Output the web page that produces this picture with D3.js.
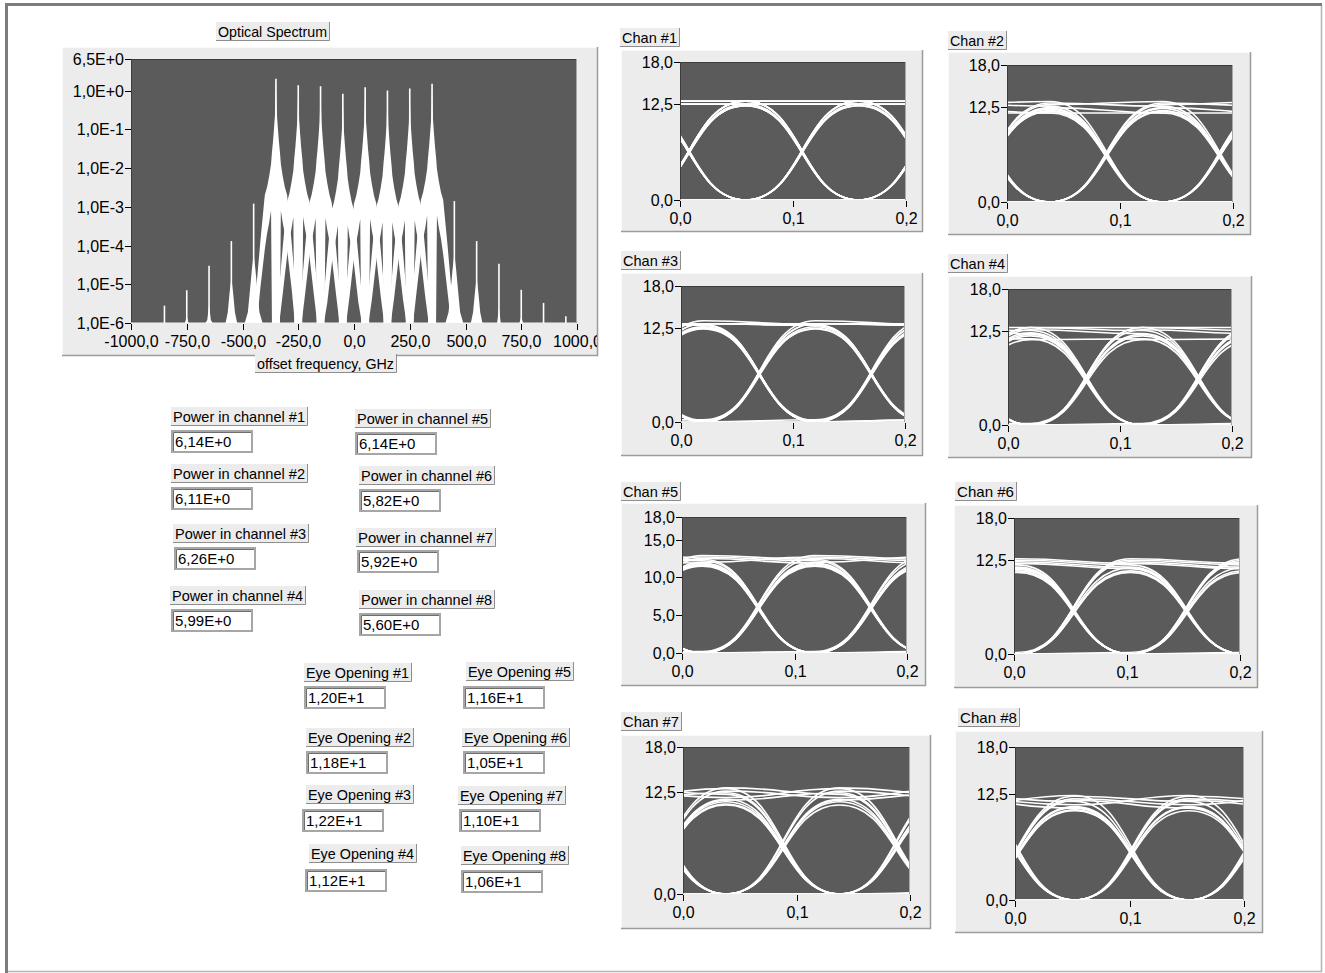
<!DOCTYPE html>
<html>
<head>
<meta charset="utf-8">
<script src="https://cdn.jsdelivr.net/npm/d3@7"></script>
<style>
body { margin: 0; background: #fff; }
svg { display: block; font-family: "Liberation Sans", Arial, sans-serif; }
</style>
</head>
<body>
<svg id="front" width="1325" height="973"></svg>
<script>
'use strict';

// ---- values ----
var channelNames = ["Chan #1", "Chan #2", "Chan #3", "Chan #4", "Chan #5", "Chan #6", "Chan #7", "Chan #8"];
var channelPower = [6.14, 6.11, 6.26, 5.99, 6.14, 5.82, 5.92, 5.60];
var eyeOpening = [12.0, 11.8, 12.2, 11.2, 11.6, 10.5, 11.0, 10.6];

var specXTicks = [-1000, -750, -500, -250, 0, 250, 500, 750, 1000];
var specYTicks = [6.5, 1, 1e-1, 1e-2, 1e-3, 1e-4, 1e-5, 1e-6];

var carrierFreq = [-350, -250, -150, -50, 50, 150, 250, 350];
var carrierPeak = [2.0, 1.37, 1.29, 0.82, 1.22, 1.0, 1.13, 1.49];
// band around each carrier: offset (GHz), upper and lower edge in decades below the peak
var lobeOffset = [0, 2, 4, 9, 13, 18, 22, 30, 40, 50, 60, 70, 85, 100];
var lobeTop = [0, -0.5, -0.9, -1.3, -1.6, -1.9, -2.2, -2.5, -2.8, -3.0, -3.6, -4.2, -5.2, -6.3];
var lobeBottom = [-9, -9, -9, -9, -9, -9, -3.4, -3.7, -4.0, -4.4, -4.9, -5.4, -6.4, -7.5];

// mixing products
var mixFreq = [-850, -750, -650, -550, -450, 450, 550, 650, 750, 850, 950];
var mixPeak = [2.8e-6, 7e-6, 3e-5, 1.3e-4, 1.2e-3, 1.4e-3, 1.3e-4, 3.4e-5, 7.2e-6, 3.3e-6, 1.5e-6];
var mixLobe = [0, 1.5e-6, 3e-6, 1.5e-5, 6e-5, 6e-5, 1.5e-5, 2.5e-6, 1.5e-6, 0, 0];
var mixLobeOffset = [0, 8, 16, 26, 40];
var mixLobeDecades = [0, -0.4, -0.9, -1.5, -2.5];

// eye diagrams: level at each bit centre, and crossing time (ns)
var chan1Levels = [0, 12.3, 0, 0, 12.9, 12.9, 0, 12.3, 0, 12.5, 12.5, 12.5, 0, 0, 12.9, 0, 12.3, 0, 12.9, 12.9, 0, 0];
var chan2Levels = [0, 12.2, 0, 13.0, 12.6, 0, 0, 11.9, 0, 12.4, 11.7, 11.7, 0, 12.0, 0, 0, 12.8, 13.2, 0, 12.3, 0, 0];
var chan3Levels = [0.2, 12.5, 0, 13.0, 12.8, 0, 0.3, 12.4, 0, 13.4, 12.9, 0, 0, 12.6, 0.2, 13.0, 13.0, 12.8, 0, 12.3, 0, 0.3];
var chan4Levels = [0, 12.2, 0, 12.9, 12.9, 0, 0, 11.8, 0, 12.6, 12.1, 0, 0.2, 12.0, 0, 11.3, 11.4, 0, 12.9, 12.5, 0, 0];
var chan5Levels = [0, 11.6, 0, 12.9, 12.4, 0, 0, 11.5, 0, 12.0, 12.7, 12.2, 0, 11.8, 0, 0.2, 12.5, 11.9, 0, 11.6, 0, 0];
var chan6Levels = [0, 11.2, 0, 12.4, 11.8, 0, 0, 10.8, 0, 12.2, 11.5, 0, 0.2, 11.4, 0, 12.6, 12.0, 11.3, 0, 11.0, 0, 0];
var chan7Levels = [0, 11.0, 0, 13.0, 12.2, 0, 0, 11.6, 0, 12.6, 11.8, 12.9, 0, 10.9, 0, 0, 11.5, 12.4, 0, 11.3, 0, 0.2];
var chan8Levels = [0, 10.6, 0, 12.2, 11.6, 0, 0, 10.9, 0, 11.9, 11.2, 12.3, 0, 10.5, 0, 0, 11.7, 10.8, 0, 11.0, 0, 0];
var eyeLevels = [chan1Levels, chan2Levels, chan3Levels, chan4Levels, chan5Levels, chan6Levels, chan7Levels, chan8Levels];
var eyeCross = [0.008, 0.088, 0.07, 0.07, 0.068, 0.053, 0.088, 0.002];
var bitPeriod = 0.1;

var eyeXTicks = [0, 0.1, 0.2];
var eyeYTicks = [0, 12.5, 18];
var eyeYTicksWide = [0, 5, 10, 15, 18];

// ---- layout (pixels) ----
// label x, label y, label w, panel x, y, w, h, plot x, y, w, h
var chanLayout = [
	[620, 28, 60, 621, 50, 302, 182, 680, 62, 226, 138],
	[948, 31, 59, 948, 52, 303, 183, 1007, 65, 226, 137],
	[621, 251, 60, 621, 273, 302, 183, 681, 286, 224, 136],
	[948, 254, 60, 948, 276, 304, 182, 1008, 289, 224, 136],
	[621, 482, 60, 621, 503, 305, 183, 682, 517, 225, 136],
	[955, 482, 62, 954, 505, 304, 183, 1014, 518, 226, 136],
	[621, 712, 61, 621, 735, 310, 194, 683, 747, 227, 147],
	[958, 708, 62, 955, 731, 308, 202, 1015, 747, 229, 153]
];
// label x, label y, label w, box x, box y
var powerLayout = [
	[171, 407, 137, 171, 430], [171, 464, 137, 171, 487], [173, 524, 136, 174, 547], [170, 586, 136, 171, 609],
	[355, 409, 136, 355, 432], [359, 466, 136, 359, 489], [356, 528, 140, 357, 550], [359, 590, 136, 359, 613]
];
var eyeLayout = [
	[304, 663, 108, 304, 686], [306, 728, 108, 306, 751], [306, 785, 108, 302, 809], [309, 844, 108, 305, 869],
	[466, 662, 108, 463, 686], [462, 728, 108, 463, 751], [458, 786, 108, 459, 809], [461, 846, 108, 461, 870]
];

var PANEL = "#ececec", PLOT = "#5b5b5b";

var lv = d3.formatLocale({decimal: ",", thousands: ".", grouping: [3], currency: ["", ""], minus: "-"});
function lvFormat(spec) {
	var f = lv.format(spec);
	return function(v) { return f(v).replace("e", "E"); };
}

var svg = d3.select("#front");

// outer frame
svg.append("path").attr("d", "M1321.5,4 V971.5 H6").attr("fill", "none")
	.attr("stroke", "#b4b4b4").attr("stroke-width", 1.5);
svg.append("path").attr("d", "M6.5,973 V4.5 H1322").attr("fill", "none")
	.attr("stroke", "#7c7c7c").attr("stroke-width", 3);

function raisedPanel(x, y, w, h) {
	var g = svg.append("g");
	g.append("rect").attr("x", x).attr("y", y).attr("width", w).attr("height", h).attr("fill", PANEL);
	g.append("path").attr("d", "M" + (x + 0.5) + "," + (y + h) + " V" + (y + 0.5) + " H" + (x + w))
		.attr("fill", "none").attr("stroke", "#fafafa");
	g.append("path").attr("d", "M" + (x + w - 0.5) + "," + y + " V" + (y + h - 0.5) + " H" + x)
		.attr("fill", "none").attr("stroke", "#9c9c9c").attr("stroke-width", 1.5);
	return g;
}

function labelBox(x, y, w, text) {
	var h = 19;
	var g = svg.append("g");
	g.append("rect").attr("x", x).attr("y", y).attr("width", w).attr("height", h).attr("fill", PANEL);
	g.append("path").attr("d", "M" + (x + w - 0.5) + "," + y + " V" + (y + h - 0.5) + " H" + x)
		.attr("fill", "none").attr("stroke", "#8e8e8e");
	g.append("text").attr("x", x + 2).attr("y", y + 15)
		.attr("textLength", w - 5).attr("lengthAdjust", "spacingAndGlyphs")
		.style("font-size", "15px").text(text);
}

function valueBox(x, y, text) {
	var w = 82, h = 23;
	var g = svg.append("g");
	g.append("rect").attr("x", x + 1).attr("y", y + 1).attr("width", w - 2).attr("height", h - 2)
		.attr("fill", "#fff").attr("stroke", "#a6a6a6").attr("stroke-width", 2);
	g.append("path").attr("d", "M" + (x + 2.5) + "," + (y + h - 2) + " V" + (y + 2.5) + " H" + (x + w - 2))
		.attr("fill", "none").attr("stroke", "#6e6e6e");
	g.append("text").attr("x", x + 4).attr("y", y + 17).style("font-size", "15px").text(text);
}

function plotFrame(x, y, w, h) {
	svg.append("rect").attr("x", x).attr("y", y).attr("width", w).attr("height", h).attr("fill", PLOT);
	svg.append("path").attr("d", "M" + (x + 0.5) + "," + (y + h) + " V" + (y + 0.5) + " H" + (x + w))
		.attr("fill", "none").attr("stroke", "#3c3c3c");
	svg.append("path").attr("d", "M" + (x + w - 0.5) + "," + y + " V" + (y + h - 0.5) + " H" + x)
		.attr("fill", "none").attr("stroke", "#a8a8a8");
}

function yAxis(scale, ticks, x, fmt) {
	var g = svg.append("g");
	ticks.forEach(function(t) {
		var yy = Math.round(scale(t)) + 0.5;
		g.append("line").attr("x1", x - 6).attr("x2", x).attr("y1", yy).attr("y2", yy).attr("stroke", "#000");
		g.append("text").attr("x", x - 7).attr("y", yy + 5.5).attr("text-anchor", "end")
			.style("font-size", "16px").text(fmt(t));
	});
}

function xAxis(scale, ticks, y, fmt, clipId) {
	var g = svg.append("g");
	if (clipId) g.attr("clip-path", "url(#" + clipId + ")");
	ticks.forEach(function(t) {
		var xx = Math.round(scale(t)) + 0.5;
		g.append("line").attr("x1", xx).attr("x2", xx).attr("y1", y + 1).attr("y2", y + 7).attr("stroke", "#000");
		g.append("text").attr("x", xx).attr("y", y + 24).attr("text-anchor", "middle")
			.style("font-size", "16px").text(fmt(t));
	});
}

var defs = svg.append("defs");
function clipRect(id, x, y, w, h) {
	defs.append("clipPath").attr("id", id).append("rect")
		.attr("x", x).attr("y", y).attr("width", w).attr("height", h);
}

// ---- optical spectrum ----
raisedPanel(62, 47, 536, 309);
labelBox(216, 22, 114, "Optical Spectrum");
plotFrame(131, 59, 446, 264);
clipRect("specClip", 132, 60, 444, 263);
clipRect("specPanelClip", 62, 47, 535, 309);

var sx = d3.scaleLinear().domain([-1000, 1000]).range([131, 577]);
var sy = d3.scaleLog().domain([1e-6, 6.5]).range([323, 59]).clamp(true);
var floorY = sy(1e-6);

// [freq, upper value, lower value] along a band
function bandPoints(f0, peak, offs, top, bottom) {
	var pts = [], k;
	for (k = offs.length - 1; k > 0; k--) {
		pts.push([f0 - offs[k], peak * Math.pow(10, top[k]), bottom ? peak * Math.pow(10, bottom[k]) : 0]);
	}
	for (k = 0; k < offs.length; k++) {
		pts.push([f0 + offs[k], peak * Math.pow(10, top[k]), bottom ? peak * Math.pow(10, bottom[k]) : 0]);
	}
	return pts;
}

var specArea = d3.area()
	.x(function(d) { return sx(d[0]); })
	.y0(function(d) { return d[2] > 1e-6 ? sy(d[2]) : floorY; })
	.y1(function(d) { return sy(Math.max(d[1], 1e-6)); });

var spec = svg.append("g").attr("clip-path", "url(#specClip)");

carrierFreq.forEach(function(f, i) {
	spec.append("path")
		.attr("d", specArea(bandPoints(f, carrierPeak[i], lobeOffset, lobeTop, lobeBottom)))
		.attr("fill", "#fff");
});
mixFreq.forEach(function(f, i) {
	if (mixLobe[i] > 0) {
		spec.append("path")
			.attr("d", specArea(bandPoints(f, mixLobe[i], mixLobeOffset, mixLobeDecades, null)))
			.attr("fill", "#fff");
	}
});
carrierFreq.concat(mixFreq).forEach(function(f, i) {
	var v = i < carrierFreq.length ? carrierPeak[i] : mixPeak[i - carrierFreq.length];
	spec.append("line").attr("x1", sx(f)).attr("x2", sx(f)).attr("y1", floorY).attr("y2", sy(v))
		.attr("stroke", "#fff").attr("stroke-width", 1.6);
});

yAxis(sy, specYTicks, 131, lvFormat(".1e"));
xAxis(sx, specXTicks, 323, lvFormat(".1f"), "specPanelClip");
labelBox(255, 354, 142, "offset frequency, GHz");

// ---- eye diagrams ----
function eyeTraces(levels, cross) {
	var T = bitPeriod;
	var c = ((cross + T / 2) % T + T) % T;
	var traces = [];
	for (var k = 1; k + 2 < levels.length; k++) {
		traces.push([-1, 0, 1, 2].map(function(j) { return [c + j * T, levels[k + j]]; }));
	}
	return traces;
}

channelNames.forEach(function(name, i) {
	var L = chanLayout[i];
	var px = L[7], py = L[8], pw = L[9], ph = L[10];
	labelBox(L[0], L[1], L[2], name);
	raisedPanel(L[3], L[4], L[5], L[6]);
	plotFrame(px, py, pw, ph);
	clipRect("eyeClip" + i, px + 1, py + 1, pw - 2, ph - 1);

	var x = d3.scaleLinear().domain([0, 0.2]).range([px, px + pw]);
	var y = d3.scaleLinear().domain([0, 18]).range([py + ph, py]);
	var line = d3.line()
		.x(function(d) { return x(d[0]); })
		.y(function(d) { return y(d[1]); })
		.curve(d3.curveBumpX);

	svg.append("g").attr("clip-path", "url(#eyeClip" + i + ")")
		.selectAll("path")
		.data(eyeTraces(eyeLevels[i], eyeCross[i]))
		.enter()
		.append("path")
		.attr("d", line)
		.attr("fill", "none")
		.attr("stroke", "#fff")
		.attr("stroke-width", 1.6);

	yAxis(y, i === 4 ? eyeYTicksWide : eyeYTicks, px, lvFormat(".1f"));
	xAxis(x, eyeXTicks, py + ph, lvFormat(".1f"));
});

// ---- numeric indicators ----
var numFmt = lvFormat(".2e");
channelPower.forEach(function(v, i) {
	var L = powerLayout[i];
	labelBox(L[0], L[1], L[2], "Power in channel #" + (i + 1));
	valueBox(L[3], L[4], numFmt(v));
});
eyeOpening.forEach(function(v, i) {
	var L = eyeLayout[i];
	labelBox(L[0], L[1], L[2], "Eye Opening #" + (i + 1));
	valueBox(L[3], L[4], numFmt(v));
});
</script>
</body>
</html>
